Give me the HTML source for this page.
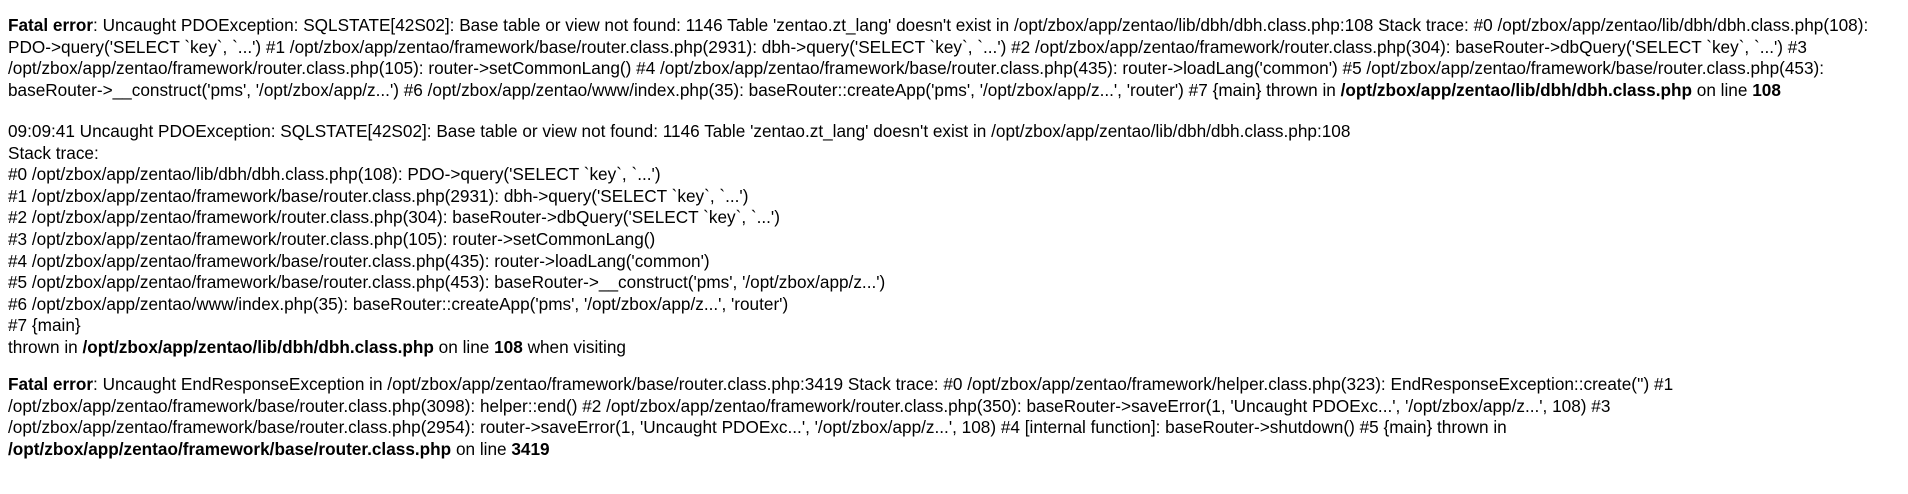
<!DOCTYPE html>
<html><head><meta charset="utf-8">
<style>
html,body{margin:0;padding:0;background:#fff;width:1908px;height:494px;overflow:hidden}
body{font-family:"Liberation Sans",sans-serif;font-size:17.2px;line-height:21.6px;color:#000}
.b{position:absolute;left:8px;white-space:nowrap}
b{font-weight:bold}
</style></head><body>
<div class="b" style="top:15px">
<b>Fatal error</b>: Uncaught PDOException: SQLSTATE[42S02]: Base table or view not found: 1146 Table 'zentao.zt_lang' doesn't exist in /opt/zbox/app/zentao/lib/dbh/dbh.class.php:108 Stack trace: #0 /opt/zbox/app/zentao/lib/dbh/dbh.class.php(108):<br>
PDO-&gt;query('SELECT `key`, `...') #1 /opt/zbox/app/zentao/framework/base/router.class.php(2931): dbh-&gt;query('SELECT `key`, `...') #2 /opt/zbox/app/zentao/framework/router.class.php(304): baseRouter-&gt;dbQuery('SELECT `key`, `...') #3<br>
/opt/zbox/app/zentao/framework/router.class.php(105): router-&gt;setCommonLang() #4 /opt/zbox/app/zentao/framework/base/router.class.php(435): router-&gt;loadLang('common') #5 /opt/zbox/app/zentao/framework/base/router.class.php(453):<br>
baseRouter-&gt;__construct('pms', '/opt/zbox/app/z...') #6 /opt/zbox/app/zentao/www/index.php(35): baseRouter::createApp('pms', '/opt/zbox/app/z...', 'router') #7 {main} thrown in <b>/opt/zbox/app/zentao/lib/dbh/dbh.class.php</b> on line <b>108</b>
</div>
<div class="b" style="top:121px">
09:09:41 Uncaught PDOException: SQLSTATE[42S02]: Base table or view not found: 1146 Table 'zentao.zt_lang' doesn't exist in /opt/zbox/app/zentao/lib/dbh/dbh.class.php:108<br>
Stack trace:<br>
#0 /opt/zbox/app/zentao/lib/dbh/dbh.class.php(108): PDO-&gt;query('SELECT `key`, `...')<br>
#1 /opt/zbox/app/zentao/framework/base/router.class.php(2931): dbh-&gt;query('SELECT `key`, `...')<br>
#2 /opt/zbox/app/zentao/framework/router.class.php(304): baseRouter-&gt;dbQuery('SELECT `key`, `...')<br>
#3 /opt/zbox/app/zentao/framework/router.class.php(105): router-&gt;setCommonLang()<br>
#4 /opt/zbox/app/zentao/framework/base/router.class.php(435): router-&gt;loadLang('common')<br>
#5 /opt/zbox/app/zentao/framework/base/router.class.php(453): baseRouter-&gt;__construct('pms', '/opt/zbox/app/z...')<br>
#6 /opt/zbox/app/zentao/www/index.php(35): baseRouter::createApp('pms', '/opt/zbox/app/z...', 'router')<br>
#7 {main}<br>
thrown in <b>/opt/zbox/app/zentao/lib/dbh/dbh.class.php</b> on line <b>108</b> when visiting
</div>
<div class="b" style="top:374px">
<b>Fatal error</b>: Uncaught EndResponseException in /opt/zbox/app/zentao/framework/base/router.class.php:3419 Stack trace: #0 /opt/zbox/app/zentao/framework/helper.class.php(323): EndResponseException::create('') #1<br>
/opt/zbox/app/zentao/framework/base/router.class.php(3098): helper::end() #2 /opt/zbox/app/zentao/framework/router.class.php(350): baseRouter-&gt;saveError(1, 'Uncaught PDOExc...', '/opt/zbox/app/z...', 108) #3<br>
/opt/zbox/app/zentao/framework/base/router.class.php(2954): router-&gt;saveError(1, 'Uncaught PDOExc...', '/opt/zbox/app/z...', 108) #4 [internal function]: baseRouter-&gt;shutdown() #5 {main} thrown in<br>
<b>/opt/zbox/app/zentao/framework/base/router.class.php</b> on line <b>3419</b>
</div>
</body></html>
